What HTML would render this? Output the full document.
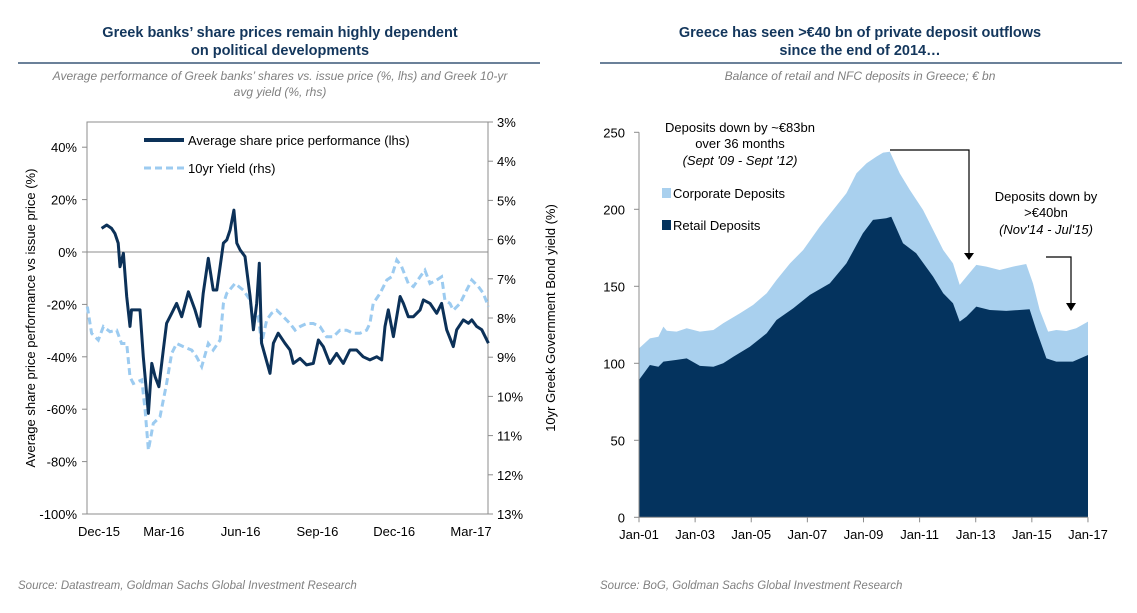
<!DOCTYPE html>
<html><head><meta charset="utf-8"><style>
body{margin:0;background:#fff;width:1137px;height:613px;overflow:hidden;font-family:"Liberation Sans",sans-serif}
svg{display:block}
</style></head><body>
<svg width="1137" height="613" id="root" font-family="Liberation Sans, sans-serif">
<g>
<text x="280" y="37" text-anchor="middle" font-size="14.5" font-weight="bold" fill="#13365c">Greek banks’ share prices remain highly dependent</text>
<text x="280" y="55" text-anchor="middle" font-size="14.5" font-weight="bold" fill="#13365c">on political developments</text>
<line x1="18" y1="63" x2="540" y2="63" stroke="#13365c" stroke-width="1.2"/>
<text x="280" y="80" text-anchor="middle" font-size="12" font-style="italic" fill="#808080">Average performance of Greek banks’ shares vs. issue price (%, lhs) and Greek 10-yr</text>
<text x="280" y="96" text-anchor="middle" font-size="12" font-style="italic" fill="#808080">avg yield (%, rhs)</text>
</g>
<g>
<text x="860" y="37" text-anchor="middle" font-size="14.5" font-weight="bold" fill="#13365c">Greece has seen &gt;€40 bn of private deposit outflows</text>
<text x="860" y="55" text-anchor="middle" font-size="14.5" font-weight="bold" fill="#13365c">since the end of 2014…</text>
<line x1="600" y1="63" x2="1122" y2="63" stroke="#13365c" stroke-width="1.2"/>
<text x="860" y="80" text-anchor="middle" font-size="12" font-style="italic" fill="#808080">Balance of retail and NFC deposits in Greece; € bn</text>
</g>
<text x="18" y="589" font-size="11.5" font-style="italic" fill="#808080">Source: Datastream, Goldman Sachs Global Investment Research</text>
<text x="600" y="589" font-size="11.5" font-style="italic" fill="#808080">Source: BoG, Goldman Sachs Global Investment Research</text>
<g id="left"></g>
<g id="right"></g>
</svg>
<script>
// ---- Left chart data ----
const shareMonths=[0.57,0.77,0.96,1.09,1.22,1.29,1.42,1.55,1.68,1.74,1.88,2.07,2.20,2.40,2.53,2.66,2.81,2.98,3.11,3.31,3.50,3.70,3.96,4.22,4.41,4.54,4.74,4.93,5.07,5.20,5.33,5.46,5.59,5.74,5.85,5.98,6.17,6.37,6.50,6.63,6.73,6.82,7.15,7.28,7.47,7.73,7.93,8.06,8.32,8.58,8.84,9.04,9.23,9.49,9.75,10.01,10.27,10.53,10.79,11.05,11.32,11.51,11.64,11.77,11.97,12.23,12.36,12.55,12.75,13.01,13.14,13.40,13.66,13.85,14.05,14.31,14.44,14.70,14.90,15.03,15.22,15.42,15.68];
const sharePerf=[9.0,10.3,9.0,7.1,3.4,-5.6,-0.5,-17.0,-28.4,-22.1,-22.1,-22.1,-40.0,-61.6,-42.5,-47.6,-51.4,-37.4,-27.2,-23.4,-19.6,-24.7,-15.2,-22.1,-28.4,-15.8,-2.4,-14.5,-14.5,-5.6,3.4,4.6,8.4,16.0,3.4,0.8,-1.7,-17.0,-29.7,-19.6,-4.3,-34.8,-46.3,-34.8,-31.0,-34.8,-37.4,-42.5,-40.6,-43.1,-42.5,-33.6,-36.1,-42.5,-38.7,-42.5,-37.4,-37.4,-40.0,-41.2,-40.0,-41.2,-28.4,-22.1,-32.3,-17.0,-19.6,-24.7,-24.7,-22.1,-18.3,-19.6,-23.4,-19.6,-29.7,-36.1,-29.7,-25.9,-27.2,-25.9,-28.4,-29.7,-34.8];
const yieldMonths=[0.01,0.18,0.44,0.64,0.90,1.16,1.35,1.55,1.68,1.81,2.14,2.27,2.40,2.59,2.85,3.11,3.31,3.50,3.76,4.09,4.28,4.48,4.74,4.93,5.20,5.33,5.46,5.78,6.11,6.37,6.50,6.69,6.82,7.02,7.21,7.41,7.67,7.93,8.13,8.32,8.58,8.84,9.10,9.36,9.62,9.88,10.14,10.40,10.66,10.92,11.05,11.18,11.45,11.71,11.90,12.10,12.29,12.55,12.75,13.01,13.20,13.40,13.66,13.85,13.98,14.18,14.31,14.57,14.83,15.03,15.29,15.48,15.68];
const yieldVals=[7.71,8.39,8.56,8.22,8.35,8.31,8.65,8.65,9.50,9.67,9.58,10.35,11.37,10.69,10.52,9.67,8.90,8.65,8.73,8.82,8.99,9.24,8.65,8.82,8.56,7.63,7.37,7.12,7.29,7.54,8.05,7.97,8.65,8.05,7.88,7.80,7.97,8.14,8.31,8.22,8.14,8.14,8.22,8.48,8.48,8.31,8.31,8.39,8.39,8.31,8.14,7.63,7.37,7.03,6.95,6.52,6.69,7.12,7.20,6.95,6.78,7.12,7.03,6.95,7.54,7.63,7.80,7.63,7.29,7.03,7.20,7.37,7.71];
const leftTicks=[40,20,0,-20,-40,-60,-80,-100];
const rightTicks=[3,4,5,6,7,8,9,10,11,12,13];
const xTickLabels=["Dec-15","Mar-16","Jun-16","Sep-16","Dec-16","Mar-17"];
const xTickMonths=[0,3,6,9,12,15];
// ---- Right chart data ----
const totalYears=[0,0.39,0.69,0.87,0.99,1.34,1.70,2.17,2.65,3.00,3.60,4.07,4.55,4.90,5.38,5.85,6.44,6.92,7.39,7.75,8.11,8.46,8.70,8.94,9.29,9.65,10.12,10.48,10.84,11.19,11.43,11.67,12.02,12.38,12.85,13.33,13.80,14.04,14.28,14.58,14.87,15.23,15.58,16.0];
const totalDeposits=[109.7,116.2,117.3,123.8,121.2,120.6,122.7,120.6,121.6,126.0,132.5,137.9,145.5,154.1,164.9,173.6,188.7,199.6,210.4,223.4,229.9,234.2,236.8,237.4,223.4,212.6,199.6,186.6,173.6,164.9,150.9,156.3,163.9,162.8,160.6,162.8,164.5,151.9,134.6,120.6,121.6,121.0,122.7,127.1];
const retailYears=[0,0.39,0.69,0.87,1.34,1.70,2.17,2.65,3.00,3.36,3.95,4.55,4.90,5.50,6.09,6.80,7.39,7.98,8.34,8.81,8.99,9.41,9.88,10.48,10.84,11.19,11.43,11.67,12.02,12.50,13.09,13.92,14.16,14.52,14.87,15.46,16.0];
const retailDeposits=[89.2,98.9,97.8,101.1,102.2,103.2,98.3,97.8,100.0,104.3,110.8,119.5,128.1,135.7,144.4,151.9,164.9,184.4,193.1,194.2,195.2,177.9,171.4,156.3,145.5,139.0,127.1,130.3,136.8,134.6,134.0,135.1,121.6,103.2,101.1,101.1,105.4];
const depTicks=[0,50,100,150,200,250];
const yearLabels=["Jan-01","Jan-03","Jan-05","Jan-07","Jan-09","Jan-11","Jan-13","Jan-15","Jan-17"];
const yearTicks=[0,2,4,6,8,10,12,14,16];

const NS="http://www.w3.org/2000/svg";
function mk(parent,tag,attrs,text){const e=document.createElementNS(NS,tag);for(const k in attrs)e.setAttribute(k,attrs[k]);if(text!==undefined)e.textContent=text;parent.appendChild(e);return e;}

// Left chart
(function(){
const g=document.getElementById('left');
const X0=87,X1=488,Y0=122,Y1=514;
const xs=m=>X0+m*25.6;
const yl=v=>252-v*2.62;
const yr=v=>Y0+(v-3)*39.2;
let e=mk(g,'rect',{x:X0,y:Y0,width:X1-X0,height:Y1-Y0,fill:'none',stroke:'#8c8c8c','stroke-width':1});


e=mk(g,'line',{x1:X0,x2:X1,y1:yl(0),y2:yl(0),stroke:'#8c8c8c','stroke-width':1});


leftTicks.forEach(t=>{
 const y=yl(t);
 e=mk(g,'line',{x1:X0-5,x2:X0,y1:y,y2:y,stroke:'#8c8c8c'});
 
 
 e=mk(g,'text',{x:X0-10,y:y+5,'text-anchor':'end','font-size':13,fill:'#000'},t+'%');
 
 
});
rightTicks.forEach(t=>{
 const y=yr(t);
 e=mk(g,'line',{x1:X1,x2:X1+5,y1:y,y2:y,stroke:'#8c8c8c'});
 
 
 e=mk(g,'text',{x:X1+9,y:y+5,'font-size':13,fill:'#000'},t+'%');
 
 
});
xTickLabels.forEach((l,i)=>{
 e=mk(g,'text',{x:xs(xTickMonths[i])+ (i==0?12:0),y:536,'text-anchor':'middle','font-size':13,fill:'#000'},l);
 
 
});
e=mk(g,'text',{transform:'translate(35,318) rotate(-90)','text-anchor':'middle','font-size':13,fill:'#000'},'Average share price performance vs issue price (%)');


e=mk(g,'text',{transform:'translate(555,318) rotate(-90)','text-anchor':'middle','font-size':13,fill:'#000'},'10yr Greek Government Bond yield (%)');


e=mk(g,'path',{d:yieldVals.map((v,i)=>(i?'L':'M')+xs(yieldMonths[i]).toFixed(1)+','+yr(v).toFixed(1)).join(''),fill:'none',stroke:'#9ccbf0','stroke-width':3,'stroke-dasharray':'7,4'});


e=mk(g,'path',{d:sharePerf.map((v,i)=>(i?'L':'M')+xs(shareMonths[i]).toFixed(1)+','+yl(v).toFixed(1)).join(''),fill:'none',stroke:'#0c3158','stroke-width':3,'stroke-linejoin':'round'});


e=mk(g,'line',{x1:144,x2:184,y1:140,y2:140,stroke:'#0c3158','stroke-width':4});


e=mk(g,'text',{x:188,y:145,'font-size':13,fill:'#000'},'Average share price performance (lhs)');


e=mk(g,'line',{x1:144,x2:184,y1:168,y2:168,stroke:'#9ccbf0','stroke-width':3,'stroke-dasharray':'7,4'});


e=mk(g,'text',{x:188,y:173,'font-size':13,fill:'#000'},'10yr Yield (rhs)');


})();

// Right chart
(function(){
const g=document.getElementById('right');
const X0=639,X1=1088,YB=517.3;
const xs=t=>X0+t*28.06;
const ys=v=>YB-v*1.54;
let d=totalYears.map((t,i)=>(i?'L':'M')+xs(t).toFixed(1)+','+ys(totalDeposits[i]).toFixed(1)).join('')+'L'+X1+','+YB+'L'+X0+','+YB+'Z';
let e=mk(g,'path',{d:d,fill:'#a9d0ee'});


d=retailYears.map((t,i)=>(i?'L':'M')+xs(t).toFixed(1)+','+ys(retailDeposits[i]).toFixed(1)).join('')+'L'+X1+','+YB+'L'+X0+','+YB+'Z';
e=mk(g,'path',{d:d,fill:'#04335e'});


e=mk(g,'line',{x1:X0,x2:X0,y1:ys(250),y2:YB,stroke:'#8c8c8c'});


e=mk(g,'line',{x1:X0,x2:X1,y1:YB,y2:YB,stroke:'#8c8c8c'});


depTicks.forEach(t=>{
 const y=ys(t);
 e=mk(g,'line',{x1:X0-5,x2:X0,y1:y,y2:y,stroke:'#8c8c8c'});
 
 
 e=mk(g,'text',{x:X0-14,y:y+5,'text-anchor':'end','font-size':13,fill:'#000'},t);
 
 
});
yearLabels.forEach((l,i)=>{
 const x=xs(yearTicks[i]);
 e=mk(g,'line',{x1:x,x2:x,y1:YB,y2:YB+5,stroke:'#8c8c8c'});
 
 
 e=mk(g,'text',{x:x,y:539,'text-anchor':'middle','font-size':13,fill:'#000'},l);
 
 
});
e=mk(g,'rect',{x:662,y:188,width:9,height:10,fill:'#a9d0ee'});


e=mk(g,'text',{x:673,y:198,'font-size':13,fill:'#000'},'Corporate Deposits');


e=mk(g,'rect',{x:662,y:220,width:9,height:10,fill:'#04335e'});


e=mk(g,'text',{x:673,y:230,'font-size':13,fill:'#000'},'Retail Deposits');


const ann=[[740,132,'Deposits down by ~€83bn',''],[740,148,'over 36 months',''],[740,165,"(Sept '09 - Sept '12)",'italic'],[1046,201,'Deposits down by',''],[1046,217,'>€40bn',''],[1046,234,"(Nov'14 - Jul'15)",'italic']];
ann.forEach(a=>{
 e=mk(g,'text',{x:a[0],y:a[1],'text-anchor':'middle','font-size':13,'font-style':a[3]||'normal',fill:'#000'},a[2]);
 
 
});
e=mk(g,'path',{d:'M890,150H969V253',fill:'none',stroke:'#000','stroke-width':1.2});


e=mk(g,'path',{d:'M964,253L974,253L969,260Z',fill:'#000'});


e=mk(g,'path',{d:'M1046,257H1071V304',fill:'none',stroke:'#000','stroke-width':1.2});


e=mk(g,'path',{d:'M1066,303L1076,303L1071,311Z',fill:'#000'});


})();
</script>
</body></html>
